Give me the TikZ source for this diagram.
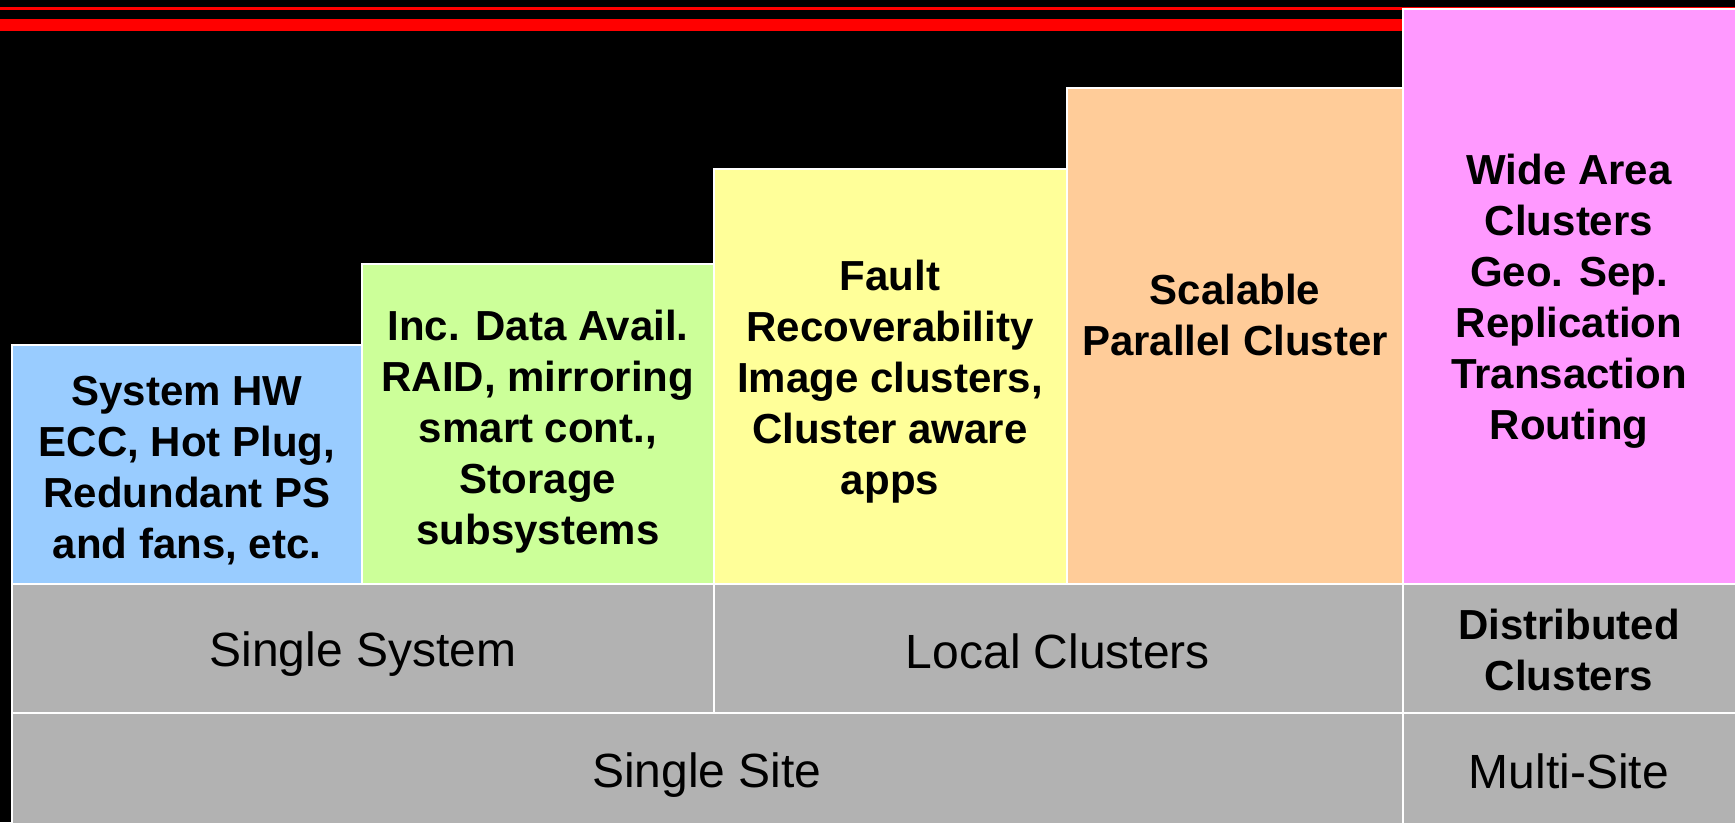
\documentclass[tikz,border=0pt]{standalone}
\usepackage{fontspec}
\setmainfont{Liberation Sans}
\definecolor{hwblue}{HTML}{99CCFF}
\definecolor{datagreen}{HTML}{CCFF99}
\definecolor{faultyellow}{HTML}{FFFF99}
\definecolor{scaleorange}{HTML}{FFCC99}
\definecolor{widepink}{HTML}{FF99FF}
\definecolor{rowgray}{HTML}{B2B2B2}
\definecolor{barred}{HTML}{FF0000}
\begin{document}
\begin{tikzpicture}[x=1pt,y=-1pt,
  cell/.style={draw=white,line width=2pt},
  steplabel/.style={align=center,font=\fontsize{42}{51}\selectfont\bfseries,inner sep=0pt},
  rowlabel/.style={align=center,font=\fontsize{48}{51}\selectfont,inner sep=0pt},
  rowboldlabel/.style={align=center,font=\fontsize{42}{51}\selectfont\bfseries,inner sep=0pt}]
% background
\fill[black] (0,0) rectangle (1735,822);
\useasboundingbox (0,0) rectangle (1735,822);
% header bars
\fill[barred] (0,7) rectangle (1735,10);
\fill[barred] (0,19) rectangle (1403,31);
% staircase of capabilities
\path[cell,fill=hwblue]      (12,345)  rectangle (362,584);
\path[cell,fill=datagreen]   (362,264) rectangle (714,584);
\path[cell,fill=faultyellow] (714,169) rectangle (1067,584);
\path[cell,fill=scaleorange] (1067,88) rectangle (1403,584);
\path[cell,fill=widepink]    (1403,9)  rectangle (1737,584);
% scope rows
\path[cell,fill=rowgray] (12,584)  rectangle (714,713);
\path[cell,fill=rowgray] (714,584) rectangle (1403,713);
\path[cell,fill=rowgray] (1403,584) rectangle (1737,713);
\path[cell,fill=rowgray] (12,713)  rectangle (1403,824);
\path[cell,fill=rowgray] (1403,713) rectangle (1737,824);
% labels
\node[steplabel] (hw) at (187,471) {System HW\\ECC, Hot Plug,\\Redundant PS\\and fans, etc.};
\node[steplabel] (data) at (538,432) {Inc. Data Avail.\\RAID, mirroring\\smart cont.,\\Storage\\subsystems};
\node[steplabel] (fault) at (890,382) {Fault\\Recoverability\\Image clusters,\\Cluster aware\\apps};
\node[steplabel] (scal) at (1235,315) {Scalable\\Parallel Cluster};
\node[steplabel] (wide) at (1569,301) {Wide Area\\Clusters\\Geo. Sep.\\Replication\\Transaction\\Routing};
\node[rowlabel] (single) at (363,654) {Single System};
\node[rowlabel] (local) at (1058,651) {Local Clusters};
\node[rowboldlabel] (dist) at (1569,650) {Distributed\\Clusters};
\node[rowlabel] (site) at (707,775) {Single Site};
\node[rowlabel] (multi) at (1569,771) {Multi-Site};
\end{tikzpicture}
\end{document}
